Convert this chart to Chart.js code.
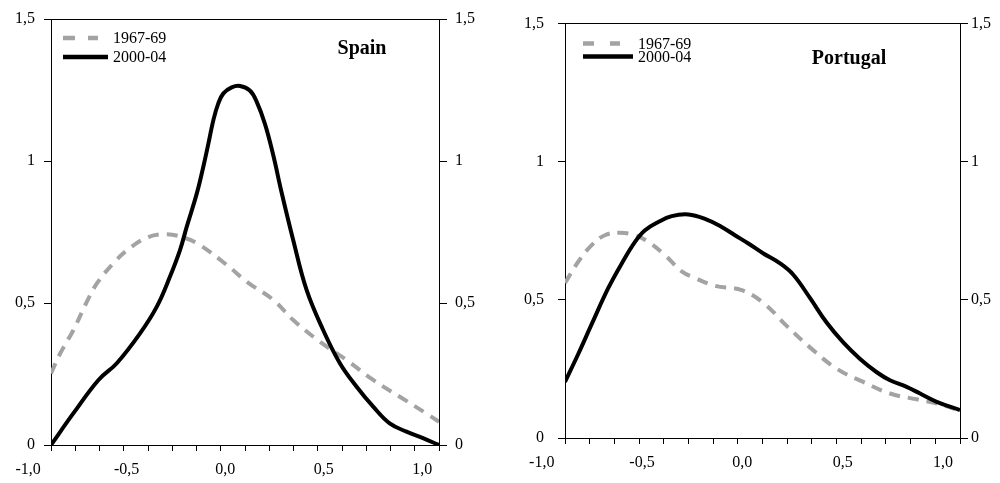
<!DOCTYPE html>
<html>
<head>
<meta charset="utf-8">
<script src="https://cdn.jsdelivr.net/npm/chart.js@4.4.1/dist/chart.umd.min.js"></script>
<style>
  html, body { margin: 0; padding: 0; background: #fff; }
  #wrap { position: relative; width: 1000px; height: 483px; }
  .panel { position: absolute; top: 0; width: 500px; height: 483px; }
  #left { left: 0; }
  #right { left: 500px; }
</style>
</head>
<body>
<div id="wrap">
  <div class="panel" id="left"><canvas id="spain" width="500" height="483"></canvas></div>
  <div class="panel" id="right"><canvas id="portugal" width="500" height="483"></canvas></div>
</div>
<script>
const seriesNames = ["1967-69", "2000-04"];
const panelTitles = ["Spain", "Portugal"];

// Spain
const spainX1967 = [-0.884, -0.837, -0.770, -0.710, -0.651, -0.567, -0.499, -0.398, -0.300, -0.200, -0.128, 0.008, 0.109, 0.244, 0.345, 0.480, 0.616, 0.751, 0.886, 1.021, 1.085];
const spainY1967 = [0.252, 0.323, 0.405, 0.493, 0.569, 0.640, 0.685, 0.730, 0.742, 0.728, 0.704, 0.634, 0.575, 0.511, 0.440, 0.364, 0.299, 0.229, 0.170, 0.111, 0.082];
const spainX2000 = [-0.884, -0.770, -0.643, -0.550, -0.432, -0.347, -0.280, -0.229, -0.195, -0.144, -0.111, -0.085, -0.060, -0.035, -0.009, 0.033, 0.075, 0.125, 0.159, 0.202, 0.244, 0.286, 0.345, 0.413, 0.497, 0.582, 0.667, 0.751, 0.835, 0.920, 1.004, 1.085];
const spainY2000 = [0.000, 0.112, 0.229, 0.288, 0.393, 0.487, 0.593, 0.687, 0.769, 0.886, 0.980, 1.062, 1.144, 1.203, 1.238, 1.259, 1.264, 1.248, 1.210, 1.130, 1.020, 0.890, 0.722, 0.546, 0.405, 0.288, 0.205, 0.135, 0.076, 0.047, 0.024, 0.000];

// Portugal
const portX1967 = [-0.884, -0.818, -0.751, -0.685, -0.610, -0.535, -0.469, -0.386, -0.302, -0.236, -0.136, -0.003, 0.105, 0.221, 0.337, 0.470, 0.603, 0.736, 0.869, 0.969, 1.085];
const portY1967 = [0.561, 0.638, 0.698, 0.734, 0.743, 0.734, 0.710, 0.662, 0.603, 0.579, 0.551, 0.535, 0.489, 0.406, 0.328, 0.251, 0.203, 0.161, 0.140, 0.125, 0.100];
const portX2000 = [-0.884, -0.818, -0.751, -0.668, -0.601, -0.535, -0.485, -0.419, -0.352, -0.269, -0.186, -0.103, -0.037, 0.030, 0.105, 0.188, 0.254, 0.337, 0.421, 0.503, 0.587, 0.670, 0.736, 0.819, 0.886, 0.969, 1.085];
const portY2000 = [0.203, 0.304, 0.412, 0.543, 0.632, 0.710, 0.752, 0.782, 0.803, 0.809, 0.793, 0.764, 0.734, 0.704, 0.668, 0.632, 0.591, 0.507, 0.417, 0.346, 0.286, 0.238, 0.209, 0.185, 0.161, 0.131, 0.101];

// axes
const xLabelValues = [-1, -0.5, 0, 0.5, 1];
const xLabels = ["-1,0", "-0,5", "0,0", "0,5", "1,0"];
const yTickValues = [0, 0.5, 1, 1.5];
const yLabels = ["0", "0,5", "1", "1,5"];
const xMin = -0.884, xMax = 1.085;
const xMarkIntervals = 16;

const FONT = "'Liberation Serif', 'Times New Roman', serif";
const GREY = "#a3a3a3";

function pts(xs, ys) {
  return xs.map((x, i) => ({ x: x, y: ys[i] }));
}

// legend + title drawn inside the plot area
const panelDecor = {
  id: "panelDecor",
  afterDatasetsDraw(chart, args, o) {
    const { ctx, chartArea } = chart;
    ctx.save();
    chart.data.datasets.forEach((ds, i) => {
      const y = chartArea.top + o.rows[i];
      const x0 = chartArea.left + o.lineX;
      ctx.beginPath();
      ctx.strokeStyle = ds.borderColor;
      ctx.lineWidth = 4.5;
      ctx.setLineDash(i === 0 ? o.legendDash : []);
      ctx.moveTo(x0, y);
      ctx.lineTo(x0 + o.lineLen[i], y);
      ctx.stroke();
      ctx.setLineDash([]);
      ctx.fillStyle = "#000";
      ctx.font = "16px " + FONT;
      ctx.textAlign = "left";
      ctx.textBaseline = "middle";
      ctx.fillText(ds.label, chartArea.left + o.textX, chartArea.top + o.textRows[i]);
    });
    ctx.font = "bold 20px " + FONT;
    ctx.textAlign = "center";
    ctx.textBaseline = "middle";
    ctx.fillText(o.title, chartArea.left + o.titleX, chartArea.top + o.titleY);
    ctx.restore();
  }
};

function makePanel(id, title, x1, y1, x2, y2, box) {
  return new Chart(document.getElementById(id), {
    type: "line",
    data: {
      datasets: [
        {
          label: seriesNames[0],
          data: pts(x1, y1),
          borderColor: GREY,
          borderWidth: 4,
          borderDash: [11, 8],
          pointRadius: 0,
          tension: 0.4,
          order: 1
        },
        {
          label: seriesNames[1],
          data: pts(x2, y2),
          borderColor: "#000",
          borderWidth: 4,
          pointRadius: 0,
          tension: 0.4,
          order: 0
        }
      ]
    },
    options: {
      responsive: false,
      animation: false,
      layout: { padding: 0 },
      plugins: {
        legend: { display: false },
        tooltip: { enabled: false },
        panelDecor: Object.assign({ title: title }, box.decor)
      },
      scales: {
        x: {
          type: "linear",
          position: "bottom",
          min: xMin,
          max: xMax,
          bounds: "data",
          afterBuildTicks: s => {
            const step = (xMax - xMin) / xMarkIntervals;
            const marks = [];
            for (let k = 0; k <= xMarkIntervals; k++) marks.push({ value: xMin + k * step });
            const labs = xLabelValues.map(v => ({ value: v, isLabel: true }));
            s.ticks = labs.concat(marks).sort((a, b) => a.value - b.value);
          },
          afterFit: s => { s.height = box.bottom; },
          grid: {
            drawOnChartArea: false,
            tickLength: 6,
            tickColor: c => (c.tick && c.tick.isLabel ? "rgba(0,0,0,0)" : "#000")
          },
          border: { display: true, color: "#000", width: 1 },
          ticks: {
            autoSkip: false,
            maxRotation: 0,
            padding: 9,
            color: "#000",
            font: { family: FONT, size: 16 },
            callback: (v, i, ticks) => (ticks[i].isLabel ? xLabels[xLabelValues.indexOf(ticks[i].value)] : "")
          }
        },
        xTop: {
          type: "linear",
          position: "top",
          min: xMin,
          max: xMax,
          afterFit: s => { s.height = box.top; },
          grid: { display: false },
          ticks: { display: false },
          border: { display: true, color: "#000", width: 1 }
        },
        y: {
          type: "linear",
          position: "left",
          min: 0,
          max: 1.5,
          afterBuildTicks: s => { s.ticks = yTickValues.map(v => ({ value: v })); },
          afterFit: s => { s.width = box.left; },
          grid: { drawOnChartArea: false, tickLength: 7, tickColor: "#000" },
          border: { display: true, color: "#000", width: 1 },
          ticks: {
            padding: box.padLeft,
            color: "#000",
            font: { family: FONT, size: 16 },
            callback: (v, i) => yLabels[i]
          }
        },
        y2: {
          type: "linear",
          position: "right",
          min: 0,
          max: 1.5,
          afterBuildTicks: s => { s.ticks = yTickValues.map(v => ({ value: v })); },
          afterFit: s => { s.width = box.right; },
          grid: { drawOnChartArea: false, tickLength: 8, tickColor: "#000" },
          border: { display: true, color: "#000", width: 1 },
          ticks: {
            padding: box.padRight,
            color: "#000",
            font: { family: FONT, size: 16 },
            callback: (v, i) => yLabels[i]
          }
        }
      }
    },
    plugins: [panelDecor]
  });
}

makePanel("spain", panelTitles[0], spainX1967, spainY1967, spainX2000, spainY2000, {
  left: 51, right: 61, top: 19, bottom: 38, padLeft: 9, padRight: 8,
  decor: {
    rows: [19, 38], textRows: [20, 39], lineX: 12, lineLen: [35, 45],
    legendDash: [12, 13], textX: 62, titleX: 311, titleY: 30
  }
});

makePanel("portugal", panelTitles[1], portX1967, portY1967, portX2000, portY2000, {
  left: 65, right: 40, top: 19, bottom: 45, padLeft: 14, padRight: 3,
  decor: {
    rows: [20, 33], textRows: [21, 34], lineX: 18, lineLen: [37, 50],
    legendDash: [11, 16], textX: 73, titleX: 284, titleY: 35
  }
});
</script>
</body>
</html>
